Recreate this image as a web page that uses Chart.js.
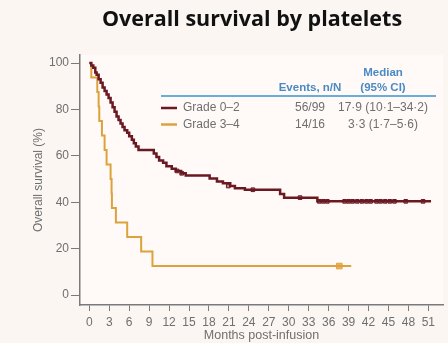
<!DOCTYPE html>
<html>
<head>
<meta charset="utf-8">
<script src="https://cdn.jsdelivr.net/npm/chart.js@4"></script>
<style>
  html, body { margin: 0; padding: 0; background: #fbf6f2; }
  #wrap { width: 448px; height: 343px; }
</style>
</head>
<body>
<div id="wrap"><canvas id="myChart" width="448" height="343"></canvas></div>
<script>
// Kaplan-Meier Schritte, Grade 0-2 (Monate, Überleben %)
var grade02Time = [0, 0.3, 0.6, 0.9, 1.1, 1.4, 1.7, 2.0, 2.3, 2.6, 2.9, 3.2, 3.5, 3.8, 4.1, 4.4, 4.7, 5.0, 5.3, 5.7, 6.0, 6.4, 6.7, 7.0, 7.4,
    9.7, 10.1, 10.5, 11.1, 11.6, 12.4, 13.0, 13.8, 14.5, 18.1, 19.2, 20.1, 21.2, 21.9, 23.4, 28.7, 29.3, 34.3, 51.4]
var grade02Surv = [100, 99, 98, 96, 95, 93, 91.5, 89.5, 88, 86.5, 85, 83, 81, 79, 77, 75.5, 74, 72.5, 71, 70, 68.5, 67, 65.5, 64, 62.5,
    61, 59.5, 58, 57, 55.5, 54.5, 53.5, 52.5, 51.5, 50.3, 49, 48.2, 47, 46, 45.4, 43.6, 42, 40.4, 40.4]
var grade02CensorTime = [13.2, 13.9, 20.9, 24.6, 31.7, 34.6, 35.2, 35.8, 38.4, 39.0, 39.6, 40.3, 41.0, 41.7, 42.3, 43.2, 43.8, 44.5, 45.2, 45.9, 47.6, 50.2]
var grade02CensorSurv = [53.5, 52.5, 47, 45.4, 42, 40.4, 40.4, 40.4, 40.4, 40.4, 40.4, 40.4, 40.4, 40.4, 40.4, 40.4, 40.4, 40.4, 40.4, 40.4, 40.4, 40.4]

// Grade 3-4
var grade34Time = [0, 0.3, 1.2, 1.4, 1.5, 1.9, 2.3, 2.6, 3.2, 3.35, 3.4, 4.0, 5.7, 7.8, 9.5, 39.4]
var grade34Surv = [100, 93.75, 87.5, 81.25, 75, 68.75, 62.5, 56.25, 50, 43.75, 37.5, 31.25, 25, 18.75, 12.5, 12.5]
var grade34CensorTime = [37.6]
var grade34CensorSurv = [12.5]

// Achsen
var xTicks = [0, 3, 6, 9, 12, 15, 18, 21, 24, 27, 30, 33, 36, 39, 42, 45, 48, 51]
var yTicks = [0, 20, 40, 60, 80, 100]

// Tabelle in der Legende
var groupNames = ["Grade 0\u20132", "Grade 3\u20134"]
var groupEvents = ["56/99", "14/16"]
var groupMedian = ["17\u00b79 (10\u00b71\u201334\u00b72)", "3\u00b73 (1\u00b77\u20135\u00b76)"]

var maroon = "#6a1822"
var gold = "#dca23c"
var grey = "#6f6f6f"
var blue = "#4a8ac4"

function points(xs, ys) {
    return xs.map(function (x, i) { return { x: x, y: ys[i] } })
}

// Titel, Hintergrund und Legendentabelle selbst zeichnen
var extras = {
    id: "extras",
    beforeDraw: function (chart) {
        var ctx = chart.ctx
        var a = chart.chartArea
        ctx.save()
        ctx.fillStyle = "#fbf6f2"
        ctx.fillRect(0, 0, chart.width, chart.height)
        ctx.fillStyle = "#fffaf7"
        ctx.fillRect(a.left, a.top, a.right - a.left, a.bottom - a.top)
        ctx.restore()
    },
    afterDraw: function (chart) {
        var ctx = chart.ctx
        ctx.save()
        ctx.fillStyle = "#111"
        ctx.font = "bold 21.5px 'Open Sans'"
        ctx.textAlign = "center"
        ctx.textBaseline = "alphabetic"
        ctx.fillText("Overall survival by platelets", 252, 26)

        // Kopfzeile
        ctx.fillStyle = blue
        ctx.font = "bold 11.5px 'Liberation Sans'"
        ctx.textBaseline = "middle"
        ctx.fillText("Median", 383, 73)
        ctx.fillText("Events, n/N", 310, 88)
        ctx.fillText("(95% CI)", 383, 88)
        ctx.strokeStyle = "#6aaed8"
        ctx.lineWidth = 2
        ctx.beginPath()
        ctx.moveTo(161, 96)
        ctx.lineTo(436, 96)
        ctx.stroke()

        var colors = [maroon, gold]
        for (var i = 0; i < groupNames.length; i++) {
            var y = 108 + i * 16.5
            ctx.strokeStyle = colors[i]
            ctx.lineWidth = 2.5
            ctx.beginPath()
            ctx.moveTo(161, y)
            ctx.lineTo(177, y)
            ctx.stroke()
            ctx.fillStyle = grey
            ctx.font = "12px 'Liberation Sans'"
            ctx.textAlign = "left"
            ctx.fillText(groupNames[i], 183, y)
            ctx.textAlign = "center"
            ctx.fillText(groupEvents[i], 310, y)
            ctx.fillText(groupMedian[i], 383, y)
        }
        ctx.restore()
    }
}

var ctx = document.getElementById("myChart").getContext("2d")

var config = {
    type: "line",
    data: {
        datasets: [
            {
                label: groupNames[0],
                data: points(grade02Time, grade02Surv),
                stepped: "before",
                borderColor: maroon,
                borderWidth: 2.5,
                pointRadius: 0,
                fill: false
            },
            {
                label: groupNames[1],
                data: points(grade34Time, grade34Surv),
                stepped: "before",
                borderColor: gold,
                borderWidth: 2,
                pointRadius: 0,
                fill: false
            },
            {
                label: "censored 0-2",
                data: points(grade02CensorTime, grade02CensorSurv),
                showLine: false,
                pointStyle: "rect",
                pointRadius: 2.6,
                pointBackgroundColor: "#b98488",
                pointBorderColor: maroon,
                pointBorderWidth: 1
            },
            {
                label: "censored 3-4",
                data: points(grade34CensorTime, grade34CensorSurv),
                showLine: false,
                pointStyle: "rect",
                pointRadius: 4,
                pointBackgroundColor: "#e8b25c",
                pointBorderColor: "#e0a448",
                pointBorderWidth: 1
            }
        ]
    },
    options: {
        responsive: false,
        animation: false,
        devicePixelRatio: 1,
        layout: { padding: { top: 55, right: 0, left: 0, bottom: 0 } },
        plugins: {
            legend: { display: false },
            tooltip: { enabled: false },
            title: { display: false }
        },
        scales: {
            x: {
                type: "linear",
                min: -1.4,
                max: 53.2,
                afterBuildTicks: function (scale) {
                    scale.ticks = xTicks.map(function (v) { return { value: v } })
                },
                afterFit: function (scale) { scale.height = 38 },
                grid: { display: true, drawOnChartArea: false, drawTicks: true, tickLength: 6, color: "#7a7a7a" },
                border: { display: true, color: "#7a7a7a", width: 1.5 },
                ticks: { color: grey, font: { family: "'Liberation Sans'", size: 12 }, padding: 4, maxRotation: 0, autoSkip: false },
                title: { display: true, text: "Months post-infusion", color: grey, font: { family: "'Liberation Sans'", size: 12.5 }, padding: { top: 0, bottom: 0 } }
            },
            y: {
                type: "linear",
                min: -4.3,
                max: 103.5,
                afterBuildTicks: function (scale) {
                    scale.ticks = yTicks.map(function (v) { return { value: v } })
                },
                afterFit: function (scale) { scale.width = 80 },
                grid: { display: true, drawOnChartArea: false, drawTicks: true, tickLength: 9, color: "#7a7a7a" },
                border: { display: true, color: "#7a7a7a", width: 1.5 },
                ticks: { color: grey, font: { family: "'Liberation Sans'", size: 12 }, padding: 2 },
                title: { display: true, text: "Overall survival (%)", color: grey, font: { family: "'Liberation Sans'", size: 12 }, padding: { top: 31, bottom: 0 } }
            }
        }
    },
    plugins: [extras]
}

var myChart = new Chart(ctx, config)
</script>
</body>
</html>
